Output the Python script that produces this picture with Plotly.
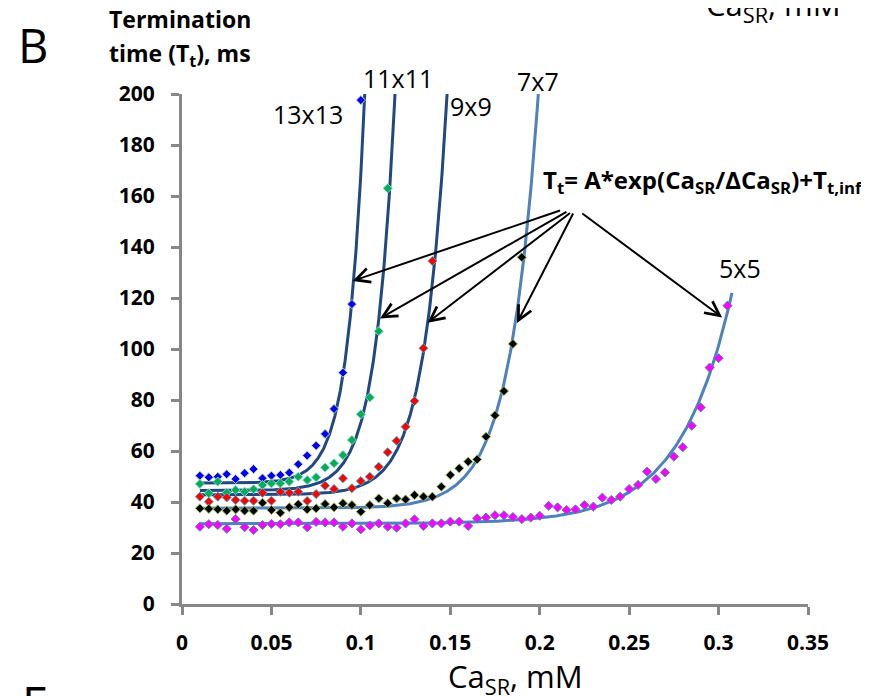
import numpy as np
import plotly.graph_objects as go

# ---------------- data ----------------
ca_13 = [0.010, 0.015, 0.020, 0.025, 0.030, 0.035, 0.040, 0.045, 0.050, 0.055,
         0.060, 0.065, 0.070, 0.075, 0.080, 0.085, 0.090, 0.095, 0.100]
tt_13 = [50.3, 49.7, 49.9, 50.9, 49.0, 51.3, 52.9, 49.3, 50.3, 50.6,
         51.5, 54.8, 58.2, 62.1, 66.7, 76.5, 90.7, 117.6, 197.6]

ca_11 = [0.010, 0.015, 0.020, 0.025, 0.030, 0.035, 0.040, 0.045, 0.050, 0.055,
         0.060, 0.065, 0.070, 0.075, 0.080, 0.085, 0.090, 0.095, 0.100, 0.105,
         0.110, 0.115]
tt_11 = [47.1, 43.4, 48.0, 43.7, 44.7, 44.0, 45.0, 46.7, 47.3, 47.3,
         48.0, 49.9, 48.6, 49.7, 53.5, 55.2, 58.4, 64.3, 74.4, 81.0,
         107.0, 163.0]

ca_9 = [0.010, 0.015, 0.020, 0.025, 0.030, 0.035, 0.040, 0.045, 0.050, 0.055,
        0.060, 0.065, 0.070, 0.075, 0.080, 0.085, 0.090, 0.095, 0.100, 0.105,
        0.110, 0.115, 0.120, 0.125, 0.130, 0.135, 0.140]
tt_9 = [42.1, 40.1, 42.1, 41.8, 40.8, 40.5, 40.5, 43.6, 40.5, 44.0,
        43.6, 44.0, 40.4, 43.1, 46.4, 45.1, 49.3, 45.4, 48.2, 49.9,
        53.8, 59.5, 64.0, 69.5, 79.6, 100.3, 134.5]

ca_7 = [0.010, 0.015, 0.020, 0.025, 0.030, 0.035, 0.040, 0.045, 0.050, 0.055,
        0.060, 0.065, 0.070, 0.075, 0.080, 0.085, 0.090, 0.095, 0.100, 0.105,
        0.110, 0.115, 0.120, 0.125, 0.130, 0.135, 0.140, 0.145, 0.150, 0.155,
        0.160, 0.165, 0.170, 0.175, 0.180, 0.185, 0.190]
tt_7 = [37.5, 37.3, 37.1, 36.6, 37.1, 36.6, 36.6, 39.7, 36.9, 35.8,
        37.9, 39.1, 37.1, 37.5, 39.2, 37.9, 39.5, 38.8, 36.2, 38.8,
        41.4, 39.5, 41.4, 41.0, 42.7, 42.1, 42.1, 46.0, 50.6, 53.2,
        55.8, 56.7, 65.6, 74.0, 83.5, 102.0, 136.0]

ca_5 = [0.010, 0.015, 0.020, 0.025, 0.030, 0.035, 0.040, 0.045, 0.050, 0.055,
        0.060, 0.065, 0.070, 0.075, 0.080, 0.085, 0.090, 0.095, 0.100, 0.105,
        0.110, 0.115, 0.120, 0.125, 0.130, 0.135, 0.140, 0.145, 0.150, 0.155,
        0.160, 0.165, 0.170, 0.175, 0.180, 0.185, 0.190, 0.195, 0.200, 0.205,
        0.210, 0.215, 0.220, 0.225, 0.230, 0.235, 0.240, 0.245, 0.250, 0.255,
        0.260, 0.265, 0.270, 0.275, 0.280, 0.285, 0.290, 0.295, 0.300, 0.305]
tt_5 = [30.3, 31.3, 31.0, 29.5, 33.3, 30.1, 29.0, 31.0, 31.4, 31.3,
        32.0, 32.0, 30.1, 32.2, 32.0, 32.0, 30.3, 31.6, 29.3, 30.8,
        31.6, 30.3, 29.9, 31.6, 33.2, 30.6, 31.6, 31.6, 32.3, 32.3,
        30.6, 33.6, 33.9, 34.8, 34.8, 34.1, 33.3, 33.9, 34.6, 38.5,
        37.9, 36.9, 37.1, 38.8, 38.2, 41.7, 40.8, 42.1, 45.1, 46.7,
        51.9, 49.0, 51.6, 57.8, 61.5, 69.9, 77.1, 92.7, 96.4, 117.0]

# exponential fit parameters  Tt = A*exp(CaSR/dCa) + Tinf
fit_names = ["13x13", "11x11", "9x9", "7x7", "5x5"]
fit_A = [3.257e-3, 2.530e-3, 1.471e-3, 6.365e-4, 2.166e-3]
fit_dCa = [0.0095, 0.0108, 0.0128, 0.0160, 0.0289]
fit_Tinf = [47.4, 44.5, 42.8, 37.5, 31.5]
fit_xstart = [0.01, 0.01, 0.01, 0.01, 0.01]
fit_xend = [None, None, None, None, 0.3075]   # None -> up to top of axis

x_ticks = [0, 0.05, 0.1, 0.15, 0.2, 0.25, 0.3, 0.35]
x_ticktext = ["0", "0.05", "0.1", "0.15", "0.2", "0.25", "0.3", "0.35"]

series = [
    ("13x13", ca_13, tt_13, "#0000FF", "#C4D79B"),
    ("11x11", ca_11, tt_11, "#00B050", "#93CDDD"),
    ("9x9", ca_9, tt_9, "#FF0000", "#4BACC6"),
    ("7x7", ca_7, tt_7, "#000000", "#9BBB59"),
    ("5x5", ca_5, tt_5, "#FF00FF", "#4F81BD"),
]
fit_colors = ["#22497F", "#22497F", "#22497F", "#4F81BD", "#4F81BD"]

FONT = "Open Sans"
YMAX = 200.0

fig = go.Figure()

# fitted curves
for i, name in enumerate(fit_names):
    A, d, c = fit_A[i], fit_dCa[i], fit_Tinf[i]
    xe = fit_xend[i]
    if xe is None:
        xe = d * np.log((YMAX - c) / A)
    xs = np.linspace(fit_xstart[i], xe, 400)
    ys = A * np.exp(xs / d) + c
    fig.add_trace(go.Scatter(x=xs, y=ys, mode="lines",
                             line=dict(color=fit_colors[i], width=3),
                             hoverinfo="skip", showlegend=False))

# data points
for name, xs, ys, fill, edge in series:
    fig.add_trace(go.Scatter(x=xs, y=ys, mode="markers", name=name,
                             marker=dict(symbol="diamond", size=7, color=fill,
                                         line=dict(color=edge, width=1)),
                             showlegend=False))

# page body has an 8px margin: work in reference-pixel coords and offset
OFF = 8
W, H = 869 - OFF, 696 - OFF
PL, PR, PT, PB = 182, 808, 94, 604          # plot box in reference pixels
L, T = PL - OFF, PT - OFF
R, B = W - (PR - OFF), H - (PB - OFF)
PW, PH = PR - PL, PB - PT


def px(xp):
    return (xp - PL) / PW


def py(yp):
    return (PB - yp) / PH


ann = []
# series labels
labels = [("13x13", 308, 114), ("11x11", 398, 78), ("9x9", 471, 106),
          ("7x7", 538, 81), ("5x5", 740, 268)]
for txt, xp, yp in labels:
    ann.append(dict(text=txt, x=px(xp), y=py(yp), xref="paper", yref="paper",
                    showarrow=False, xanchor="center", yanchor="middle",
                    font=dict(family=FONT, size=25, color="black")))

# formula
ann.append(dict(text="T<sub>t</sub>= A*exp(Ca<sub>SR</sub>/ΔCa<sub>SR</sub>)+T<sub>t,inf</sub>",
                x=px(703), y=py(181), xref="paper", yref="paper", showarrow=False,
                xanchor="center", yanchor="middle",
                font=dict(family=FONT, size=24, color="black", weight="bold")))

# arrows (tail -> tip), in data coords
arrow_tails = [(0.2122, 154.5), (0.2158, 154.1), (0.2178, 153.8), (0.2191, 153.7), (0.2230, 153.6)]
arrow_tips = [(0.0954, 126.7), (0.1107, 112.0), (0.1373, 110.3), (0.1873, 110.2), (0.3020, 112.4)]
for (tx, ty), (hx, hy) in zip(arrow_tails, arrow_tips):
    ann.append(dict(text="", x=hx, y=hy, ax=tx, ay=ty, xref="x", yref="y",
                    axref="x", ayref="y", showarrow=True, arrowhead=5,
                    arrowsize=1.4, arrowwidth=2, arrowcolor="black"))

# panel letters / titles
ann.append(dict(text="B", x=px(33), y=py(45), xref="paper", yref="paper",
                showarrow=False, xanchor="center", yanchor="middle",
                font=dict(family=FONT, size=47, color="black")))
ann.append(dict(text="E", x=px(35), y=py(669), xref="paper", yref="paper",
                showarrow=False, xanchor="center", yanchor="top",
                font=dict(family=FONT, size=47, color="black")))
ann.append(dict(text="Termination", x=px(180), y=py(19), xref="paper", yref="paper",
                showarrow=False, xanchor="center", yanchor="middle",
                font=dict(family=FONT, size=23, color="black", weight="bold")))
ann.append(dict(text="time (T<sub>t</sub>), ms", x=px(180), y=py(54), xref="paper", yref="paper",
                showarrow=False, xanchor="center", yanchor="middle",
                font=dict(family=FONT, size=23, color="black", weight="bold")))
ann.append(dict(text="Ca<sub>SR</sub>, mM", x=px(515), y=py(678), xref="paper", yref="paper",
                showarrow=False, xanchor="center", yanchor="middle",
                font=dict(family=FONT, size=31, color="black")))
ann.append(dict(text="Ca<sub>SR</sub>, mM", x=px(773), y=py(31), xref="paper", yref="paper",
                showarrow=False, xanchor="center", yanchor="bottom",
                font=dict(family=FONT, size=31, color="black")))

AX = "#878787"
fig.update_layout(
    width=W, height=H,
    margin=dict(l=L, r=R, t=T, b=B),
    paper_bgcolor="white", plot_bgcolor="white",
    showlegend=False,
    annotations=ann,
    xaxis=dict(range=[0, 0.35], tickvals=x_ticks, ticktext=x_ticktext,
               showline=True, linecolor=AX, linewidth=3,
               ticks="outside", ticklen=8, tickwidth=3, tickcolor=AX,
               showgrid=False, zeroline=False, ticklabelstandoff=10,
               tickfont=dict(family=FONT, size=21, color="black", weight="bold")),
    yaxis=dict(range=[0, 200], dtick=20, tick0=0,
               showline=True, linecolor=AX, linewidth=3,
               ticks="outside", ticklen=8, tickwidth=3, tickcolor=AX,
               showgrid=False, zeroline=False, ticklabelstandoff=12,
               tickfont=dict(family=FONT, size=21, color="black", weight="bold")),
)

fig.write_html("out.html")
